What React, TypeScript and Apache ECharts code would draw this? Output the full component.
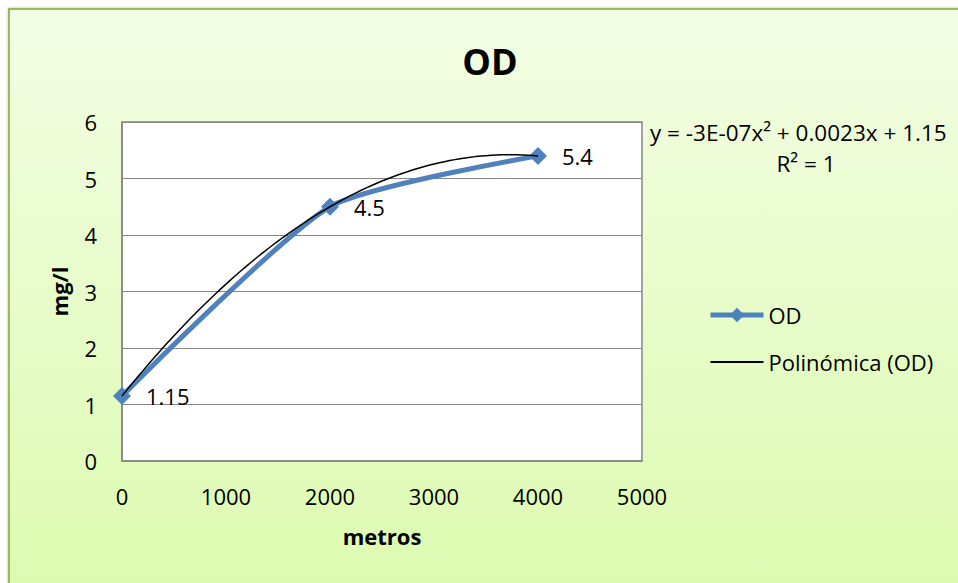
import React, { useEffect, useRef } from "react";
import * as echarts from "echarts";

const distances = [0, 2000, 4000];
const odValues = [1.15, 4.5, 5.4];
const xTicks = [0, 1000, 2000, 3000, 4000, 5000];
const yTicks = [0, 1, 2, 3, 4, 5, 6];
const seriesNames = ["OD", "Polinómica (OD)"];
const equationText = "y = -3E-07x² + 0.0023x + 1.15";
const r2Text = "R² = 1";
const titleText = "OD";
const xName = "metros";
const yName = "mg/l";

// Quadratic trendline fitted (exactly) through the OD points, like Excel's polynomial order 2.
function fitQuadratic(xs: number[], ys: number[]) {
  const [x0, x1, x2] = xs;
  const [y0, y1, y2] = ys;
  return (x: number) =>
    (y0 * (x - x1) * (x - x2)) / ((x0 - x1) * (x0 - x2)) +
    (y1 * (x - x0) * (x - x2)) / ((x1 - x0) * (x1 - x2)) +
    (y2 * (x - x0) * (x - x1)) / ((x2 - x0) * (x2 - x1));
}

const FONT = "Open Sans";

export default function App() {
  const ref = useRef<HTMLDivElement>(null);
  useEffect(() => {
    if (!ref.current) return;
    const chart = echarts.init(ref.current, undefined, { renderer: "svg" });
    const f = fitQuadratic(distances, odValues);
    const xMin = distances[0];
    const xMax = distances[distances.length - 1];
    const trend: number[][] = [];
    const steps = 80;
    for (let i = 0; i <= steps; i++) {
      const x = xMin + ((xMax - xMin) * i) / steps;
      trend.push([x, f(x)]);
    }
    chart.setOption({
      animation: false,
      textStyle: { fontFamily: FONT },
      graphic: [
        {
          type: "rect",
          z: -10,
          silent: true,
          shape: { x: 9, y: 9, width: 980, height: 600 },
          style: {
            fill: new echarts.graphic.LinearGradient(0, 0, 0, 1, [
              { offset: 0, color: "#f3fde4" },
              { offset: 1, color: "#dbfbae" },
            ]),
            stroke: "#9bbb59",
            lineWidth: 2,
            shadowColor: "rgba(0,0,0,0.25)",
            shadowBlur: 3,
          },
        },
        {
          type: "text",
          x: 490,
          y: 61,
          style: {
            text: titleText,
            fontFamily: FONT,
            fontSize: 36,
            fontWeight: "bold",
            fill: "#000",
            textAlign: "center",
            textVerticalAlign: "middle",
          },
        },
        {
          type: "text",
          x: 650,
          y: 132,
          style: {
            text: equationText,
            fontFamily: FONT,
            fontSize: 22.5,
            fill: "#000",
            textAlign: "left",
            textVerticalAlign: "middle",
          },
        },
        {
          type: "text",
          x: 806,
          y: 163,
          style: {
            text: r2Text,
            fontFamily: FONT,
            fontSize: 22.5,
            fill: "#000",
            textAlign: "center",
            textVerticalAlign: "middle",
          },
        },
      ],
      grid: {
        left: 122,
        top: 122,
        width: 520,
        height: 339,
        show: true,
        backgroundColor: "#ffffff",
        borderColor: "#868686",
        borderWidth: 1.5,
      },
      legend: {
        orient: "vertical",
        left: 708,
        top: 304,
        padding: 0,
        itemWidth: 53,
        itemHeight: 18,
        itemGap: 25,
        data: [
          { name: seriesNames[0], lineStyle: { width: 5 } },
          { name: seriesNames[1], icon: "path://M0,0 L100,0 L100,4 L0,4 Z" },
        ],
        textStyle: { fontFamily: FONT, fontSize: 22, color: "#000", lineHeight: 22 },
      },
      xAxis: {
        type: "value",
        min: xTicks[0],
        max: xTicks[xTicks.length - 1],
        interval: xTicks[1] - xTicks[0],
        name: xName,
        nameLocation: "middle",
        nameGap: 64,
        nameTextStyle: { fontFamily: FONT, fontSize: 22, fontWeight: "bold", color: "#000" },
        axisLine: { show: true, lineStyle: { color: "#868686", width: 1.5 } },
        axisTick: { show: false },
        splitLine: { show: false },
        axisLabel: {
          fontFamily: FONT,
          fontSize: 22,
          color: "#000",
          margin: 24,
          formatter: (v: number) => String(v),
        },
      },
      yAxis: {
        type: "value",
        min: yTicks[0],
        max: yTicks[yTicks.length - 1],
        interval: yTicks[1] - yTicks[0],
        name: yName,
        nameLocation: "middle",
        nameGap: 52,
        nameRotate: 90,
        nameTextStyle: { fontFamily: FONT, fontSize: 22, fontWeight: "bold", color: "#000" },
        axisLine: { show: true, lineStyle: { color: "#868686", width: 1.5 } },
        axisTick: { show: false },
        splitLine: { show: true, lineStyle: { color: "#868686", width: 1.2 } },
        axisLabel: { fontFamily: FONT, fontSize: 22, color: "#000", margin: 25 },
      },
      series: [
        {
          name: seriesNames[0],
          type: "line",
          data: distances.map((d, i) => [d, odValues[i]]),
          smooth: 0.2,
          symbol: "diamond",
          symbolSize: 18,
          lineStyle: { color: "#4f81bd", width: 5 },
          itemStyle: { color: "#4f81bd" },
          label: {
            show: true,
            position: "right",
            distance: 15,
            fontFamily: FONT,
            fontSize: 22,
            color: "#000",
            formatter: (p: any) => String(p.value[1]),
          },
          z: 2,
        },
        {
          name: seriesNames[1],
          type: "line",
          data: trend,
          smooth: false,
          symbol: "none",
          lineStyle: { color: "#000", width: 1.5 },
          itemStyle: { color: "#000" },
          z: 3,
        },
      ],
    });
    return () => chart.dispose();
  }, []);
  return (
    <div
      ref={ref}
      style={{ position: "absolute", left: 0, top: 0, width: 958, height: 583 }}
    />
  );
}
